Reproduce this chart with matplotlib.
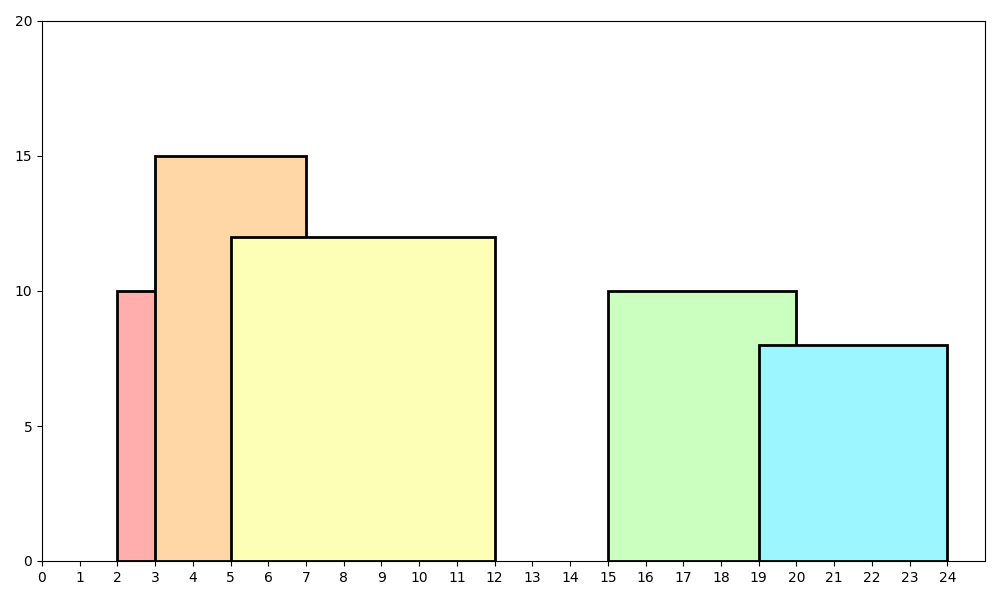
import matplotlib
matplotlib.use("Agg")
import matplotlib.pyplot as plt
from matplotlib.patches import Rectangle

starts = [2, 3, 5, 15, 19]
ends = [5, 7, 12, 20, 24]
heights = [10, 15, 12, 10, 8]
colors = ['#FFADAD', '#FFD6A5', '#FDFFB6', '#CAFFBF', '#9BF6FF']

fig, ax = plt.subplots(figsize=(10, 6), dpi=100)
for s, e, h, c in zip(starts, ends, heights, colors):
    ax.add_patch(Rectangle((s, 0), e - s, h, facecolor=c, edgecolor='black', linewidth=2))

ax.set_xlim(0, 25)
ax.set_ylim(0, 20)
ax.set_xticks(range(0, 25))
ax.set_yticks([0, 5, 10, 15, 20])
fig.subplots_adjust(left=0.042, right=0.985, top=0.965, bottom=0.065)
fig.savefig("out.png")
